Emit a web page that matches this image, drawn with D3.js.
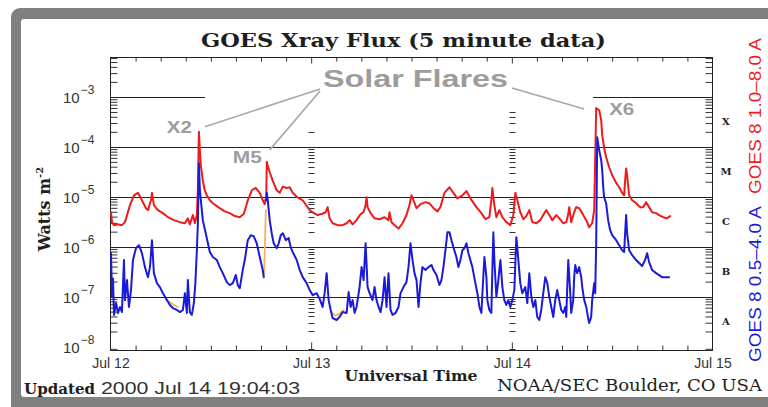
<!DOCTYPE html>
<html>
<head>
<meta charset="utf-8">
<script src="https://cdn.jsdelivr.net/npm/d3@7"></script>
<style>
  html, body { margin: 0; padding: 0; background: #fff; }
  svg { display: block; }
</style>
</head>
<body>
<svg id="chart" width="768" height="407"></svg>
<script>
// GOES-8 X-ray flux, 12–14 July 2000. Times are hours after 2000-07-12 00:00 UT,
// flux in W m^-2.

// 1.0–8.0 Å (long) channel
const longChannel = [
  [0.06,4.9e-6],[0.18,3.1e-6],[0.42,2.7e-6],[0.90,2.8e-6],[1.37,2.7e-6],[1.73,3.1e-6],[2.33,6.8e-6],
  [2.81,1.07e-5],[3.28,1.2e-5],[3.76,8.5e-6],[4.24,5.9e-6],[4.48,5.4e-6],[4.84,8.5e-6],[4.96,1.2e-5],
  [5.19,6.8e-6],[5.67,5.4e-6],[6.27,4.7e-6],[6.87,3.9e-6],[7.58,3.4e-6],[8.30,3.1e-6],[8.90,2.95e-6],
  [9.25,3.7e-6],[9.49,2.8e-6],[9.85,4.3e-6],[10.09,2.95e-6],[10.33,4.3e-6],[10.45,1.35e-5],[10.57,2.0e-4],
  [10.69,8.5e-5],[10.81,4.2e-5],[11.04,2.1e-5],[11.28,1.35e-5],[11.52,1.07e-5],[11.88,8.5e-6],[12.24,7.4e-6],
  [12.72,6.5e-6],[13.07,5.9e-6],[13.67,5.1e-6],[14.27,4.7e-6],[14.87,4.1e-6],[15.46,3.9e-6],[15.94,4.5e-6],
  [16.42,8.5e-6],[16.90,1.35e-5],[17.37,1.5e-5],[17.85,1.2e-5],[18.21,8.5e-6],[18.45,7.1e-6],[18.63,1.07e-5],
  [18.69,5.0e-5],[18.81,4.2e-5],[19.04,3.1e-5],[19.40,2.1e-5],[19.88,1.35e-5],[20.24,1.2e-5],[20.60,1.6e-5],
  [21.07,1.5e-5],[21.43,1.55e-5],[21.79,1.2e-5],[22.27,1.0e-5],[22.99,8.5e-6],[23.82,5.4e-6],[24.30,4.7e-6],
  [24.78,4.3e-6],[25.25,4.5e-6],[25.73,4.9e-6],[25.97,6.2e-6],[26.21,3.7e-6],[26.57,2.95e-6],[27.16,2.7e-6],
  [27.76,2.7e-6],[28.24,2.95e-6],[28.60,3.4e-6],[28.96,2.8e-6],[29.43,3.4e-6],[29.91,4.5e-6],[30.27,4.9e-6],
  [30.51,6.8e-6],[30.63,9.8e-6],[30.75,6.2e-6],[31.10,4.7e-6],[31.58,3.7e-6],[32.18,3.55e-6],[32.78,3.9e-6],
  [33.25,3.4e-6],[33.37,4.9e-6],[33.61,3.1e-6],[34.09,2.6e-6],[34.45,2.3e-6],[34.93,2.95e-6],[35.40,4.3e-6],
  [35.76,6.8e-6],[36.00,1.07e-5],[36.24,8.5e-6],[36.60,5.9e-6],[37.07,7.1e-6],[37.67,7.8e-6],[38.15,7.4e-6],
  [38.63,5.9e-6],[39.10,5.1e-6],[39.46,6.2e-6],[39.94,1.2e-5],[40.54,1.55e-5],[41.01,1.2e-5],[41.49,9.3e-6],
  [42.09,1.07e-5],[42.57,1.3e-5],[43.04,9.3e-6],[43.76,6.2e-6],[44.36,4.7e-6],[44.84,3.55e-6],[45.31,3.9e-6],
  [45.55,8.5e-6],[45.67,1.5e-5],[45.91,6.8e-6],[46.15,3.9e-6],[46.51,5.4e-6],[46.87,3.9e-6],[47.34,3.1e-6],
  [47.82,2.7e-6],[48.18,4.3e-6],[48.42,1.2e-5],[48.66,8.5e-6],[49.01,4.9e-6],[49.37,3.55e-6],[49.73,4.1e-6],
  [50.09,5.4e-6],[50.45,3.1e-6],[50.93,2.95e-6],[51.40,3.4e-6],[51.76,4.3e-6],[52.12,5.4e-6],[52.48,4.3e-6],
  [52.84,3.4e-6],[53.31,4.3e-6],[53.67,3.7e-6],[54.15,2.95e-6],[54.51,3.1e-6],[54.75,4.5e-6],[54.87,6.2e-6],
  [55.10,3.1e-6],[55.46,4.9e-6],[55.70,6.2e-6],[56.06,5.9e-6],[56.42,4.7e-6],[56.90,3.4e-6],[57.25,2.45e-6],
  [57.61,2.95e-6],[57.85,5.4e-6],[57.97,5.4e-5],[58.09,6.0e-4],[58.45,5.4e-4],[58.69,3.4e-4],[58.81,1.7e-4],
  [59.04,9.5e-5],[59.28,6.2e-5],[59.64,3.9e-5],[60.00,2.7e-5],[60.48,1.9e-5],[60.84,1.55e-5],[61.19,1.2e-5],
  [61.43,1.07e-5],[61.55,2.1e-5],[61.67,3.7e-5],[61.79,2.7e-5],[62.03,1.07e-5],[62.39,8.5e-6],[62.87,7.4e-6],
  [63.34,6.2e-6],[63.70,6.2e-6],[64.06,7.8e-6],[64.42,6.2e-6],[64.78,4.9e-6],[65.25,4.7e-6],[65.61,4.3e-6],
  [66.09,3.9e-6],[66.57,3.7e-6],[66.93,4.1e-6]
];

// 0.5–4.0 Å (short) channel; null marks a data gap
const shortChannel = [
  [0.06,7.4e-7],[0.18,9.8e-8],[0.30,2.3e-7],[0.42,4.3e-8],[0.66,7.4e-8],[0.90,4.7e-8],[1.13,6.2e-8],
  [1.37,4.9e-8],[1.61,5.4e-7],[1.73,8.5e-8],[1.97,2.14e-7],[2.21,6.2e-8],[2.45,1.35e-7],[2.69,5.4e-7],
  [3.04,9.3e-7],[3.40,1.07e-6],[3.76,7.4e-7],[4.12,3.9e-7],[4.48,2.45e-7],[4.72,3.9e-7],[4.96,1.35e-6],
  [5.19,2.95e-7],[5.55,1.86e-7],[5.91,1.55e-7],[6.27,1.17e-7],[6.75,8.5e-8],[7.10,6.8e-8],[7.46,5.9e-8],
  [7.94,5.4e-8],[8.30,4.9e-8],[8.66,5.4e-8],[8.90,1.17e-7],[9.13,4.7e-8],[9.25,2.14e-7],[9.49,4.9e-8],
  [9.73,4.3e-8],[9.97,7.4e-8],[10.15,1.86e-7],[10.33,8.5e-7],[10.45,2.95e-6],[10.57,4.7e-5],[10.69,1.35e-5],
  [11.04,3.4e-6],[11.52,1.48e-6],[11.88,7.8e-7],[12.24,6.2e-7],[12.72,5.4e-7],[13.07,3.9e-7],[13.43,2.95e-7],
  [13.91,1.95e-7],[14.27,1.7e-7],[14.63,1.86e-7],[14.99,2.7e-7],[15.22,1.7e-7],[15.46,1.48e-7],[15.82,3.4e-7],
  [16.06,5.4e-7],[16.42,1.35e-6],[16.78,1.7e-6],[17.13,1.62e-6],[17.49,1.17e-6],[17.85,6.2e-7],[18.21,3.4e-7],
  [18.33,2.45e-7],null,[18.63,8.5e-6],[18.69,1.2e-5],[18.81,8.5e-6],[19.04,3.4e-6],[19.28,1.86e-6],
  [19.52,1.17e-6],[19.88,9.3e-7],[20.12,1.17e-6],[20.36,1.7e-6],[20.60,1.86e-6],[20.96,1.35e-6],[21.31,1.48e-6],
  [21.55,9.8e-7],[21.79,7.8e-7],[22.27,5.4e-7],[22.63,3.4e-7],[22.99,2.45e-7],[23.46,1.86e-7],[23.82,1.35e-7],
  [24.18,1.07e-7],[24.66,1.17e-7],[25.01,9.0e-8],[25.37,6.2e-8],[25.61,1.17e-7],[25.85,2.95e-7],[26.09,8.5e-8],
  [26.33,5.4e-8],[26.57,3.7e-8],[27.04,3.4e-8],[27.40,3.9e-8],[27.76,4.9e-8],[28.24,4.7e-8],[28.48,1.23e-7],
  [28.72,6.2e-8],[28.96,8.5e-8],[29.19,4.7e-8],[29.43,6.2e-8],[29.79,1.55e-7],[30.03,3.9e-7],[30.27,2.14e-7],
  [30.51,1.17e-6],[30.75,1.55e-7],[30.99,1.17e-7],[31.34,8.5e-8],[31.58,1.55e-7],[31.82,8.5e-8],[32.06,6.2e-8],
  [32.30,4.9e-8],[32.54,8.5e-8],[32.78,2.45e-7],[33.01,6.2e-8],[33.25,2.95e-7],[33.49,5.4e-8],[33.73,4.3e-8],
  [34.09,4.7e-8],[34.45,6.2e-8],[34.69,1.17e-7],[35.04,1.55e-7],[35.40,1.95e-7],[35.64,3.9e-7],[35.88,1.17e-6],
  [36.12,5.4e-7],[36.36,2.95e-7],[36.60,2.14e-7],[36.84,6.2e-8],[37.07,1.86e-7],[37.31,3.9e-7],[37.67,3.4e-7],
  [38.03,3.9e-7],[38.39,4.3e-7],[38.63,3.4e-7],[38.99,2.7e-7],[39.34,1.7e-7],[39.58,2.14e-7],[39.82,3.9e-7],
  [40.06,8.5e-7],[40.30,1.95e-6],[40.54,1.95e-6],[40.78,1.35e-6],[41.01,9.8e-7],[41.37,6.2e-7],[41.61,3.9e-7],
  [41.85,5.4e-7],[42.09,8.5e-7],[42.33,9.3e-7],[42.57,1.17e-6],[42.81,7.4e-7],[43.04,5.4e-7],[43.28,3.9e-7],
  [43.64,1.86e-7],[43.88,1.17e-7],[44.12,6.2e-8],[44.36,4.7e-8],[44.48,1.17e-7],[44.72,6.2e-7],[44.96,2.45e-7],
  [45.07,8.5e-8],[45.31,5.4e-8],[45.55,4.7e-8],[45.67,3.4e-7],[45.79,1.95e-6],[45.91,5.4e-7],[46.15,9.8e-8],
  [46.39,2.14e-7],[46.63,5.4e-7],[46.87,1.55e-7],[47.10,8.5e-8],[47.34,6.8e-8],[47.58,8.5e-8],[47.82,6.2e-8],
  [48.06,8.5e-8],[48.30,1.35e-7],[48.54,1.55e-6],[48.78,5.4e-7],[49.01,1.86e-7],[49.25,1.17e-7],[49.61,1.55e-7],
  [49.85,7.4e-8],[50.09,2.95e-7],[50.33,9.8e-8],[50.57,6.2e-8],[50.81,8.5e-8],[51.04,3.9e-8],[51.28,3.4e-8],
  [51.52,5.4e-8],[51.76,1.17e-7],[52.00,2.45e-7],[52.24,1.86e-7],[52.48,9.8e-8],[52.72,6.2e-8],[52.96,3.9e-8],
  [53.19,8.5e-8],[53.43,1.35e-7],[53.67,8.5e-8],[53.91,5.4e-8],[54.15,4.7e-8],[54.39,6.2e-8],[54.51,3.9e-8],
  [54.63,1.55e-7],[54.75,5.4e-7],[54.99,1.17e-7],[55.10,4.7e-8],[55.34,8.5e-8],[55.46,2.45e-7],[55.58,4.3e-7],
  [55.82,2.95e-7],[56.06,3.9e-7],[56.30,2.45e-7],[56.42,1.55e-7],[56.66,8.5e-8],[56.90,6.2e-8],[57.13,3.7e-8],
  [57.25,2.95e-8],[57.49,3.9e-8],[57.61,8.5e-8],[57.85,1.86e-7],[57.97,1.17e-7],[58.09,1.17e-6],[58.21,1.55e-4],
  [58.45,8.5e-5],[58.69,5.4e-5],[58.81,3.4e-5],[58.93,1.55e-5],[59.04,9.8e-6],[59.28,7.4e-6],[59.52,3.4e-6],
  [59.76,2.14e-6],[60.00,1.7e-6],[60.48,1.35e-6],[60.84,1.07e-6],[61.19,8.5e-7],[61.43,7.8e-7],[61.55,1.86e-6],
  [61.67,4.3e-6],[61.79,1.86e-6],[62.03,8.5e-7],[62.39,6.8e-7],[62.87,5.4e-7],[63.22,4.7e-7],[63.58,4.1e-7],
  [63.94,5.4e-7],[64.18,7.4e-7],[64.42,4.9e-7],[64.78,3.4e-7],[65.25,2.95e-7],[65.61,2.7e-7],[65.97,2.45e-7],
  [66.45,2.45e-7],[66.81,2.45e-7]
];

// Secondary short-channel samples that show from under the main trace
const secondaryShort = [
  [6.63,8.5e-8],[7.10,7.8e-8],[7.58,6.8e-8],[8.06,6.2e-8],null,
  [18.36,2.6e-7],[18.45,8.5e-7],[18.52,2.3e-6],[18.58,5.4e-6],null,
  [26.45,4.9e-8],[26.92,4.1e-8],[27.40,4.5e-8],[27.88,5.4e-8]
];

// Flares called out on the chart
const flareNames = ["X2", "M5", "X6"];
const flareTimes = [10.57, 18.69, 58.09];
const flareFluxes = [2.0e-4, 5.0e-5, 6.0e-4];

const dayLabels = ["Jul 12", "Jul 13", "Jul 14", "Jul 15"];
const decadeExponents = [-8, -7, -6, -5, -4, -3];
const flareClasses = ["A", "B", "C", "M", "X"];

// ---------------------------------------------------------------------------
const startMs = Date.UTC(2000, 6, 12);
const at = h => new Date(startMs + h * 3600e3);

const svg = d3.select("#chart");
const plotL = 110.5, plotR = 712.5, plotT = 57.5, plotB = 350.5;

const x = d3.scaleUtc().domain([at(0), at(72)]).range([plotL, plotR]);
const y = d3.scaleLog().domain([Math.pow(10, -8.08), Math.pow(10, -2.21)]).range([plotB, plotT]);

const serif = "'DejaVu Serif', 'Liberation Serif', serif";
const sans = "'Liberation Sans', Arial, sans-serif";
const ink = "#1e1e1e";

// page frame
svg.append("rect").attr("width", 768).attr("height", 407).attr("fill", "#fff");
svg.append("rect").attr("x", 11).attr("y", 8).attr("width", 800).attr("height", 430)
  .attr("rx", 9).attr("fill", "#808080");
svg.append("rect").attr("x", 21).attr("y", 19).attr("width", 800).attr("height", 378)
  .attr("rx", 3).attr("fill", "#fff");

// minor tick values 2..9 × 10^n inside the axis range
const [yMin, yMax] = y.domain();
const minorTicks = [];
for (let e = -9; e <= -2; e++) {
  for (let m = 2; m <= 9; m++) {
    const v = m * Math.pow(10, e);
    if (v > yMin && v < yMax) minorTicks.push(v);
  }
}

const axisStyle = g => {
  g.select(".domain").remove();
  g.selectAll(".tick line").attr("stroke", "#333").attr("stroke-width", 1);
};

// left / right inner ticks
svg.append("g").attr("transform", `translate(${plotL},0)`)
  .call(d3.axisRight(y).tickValues(minorTicks).tickSize(7).tickFormat(""))
  .call(axisStyle);
svg.append("g").attr("transform", `translate(${plotR},0)`)
  .call(d3.axisLeft(y).tickValues(minorTicks).tickSize(7).tickFormat(""))
  .call(axisStyle);

// time ticks every 3 hours, top and bottom
const hourTicks = d3.range(3, 72, 3).filter(h => h % 24 !== 0).map(at);
const dayTicks = [24, 48].map(at);
svg.append("g").attr("transform", `translate(0,${plotT})`)
  .call(d3.axisBottom(x).tickValues(hourTicks).tickSize(4).tickFormat(""))
  .call(axisStyle);
svg.append("g").attr("transform", `translate(0,${plotT})`)
  .call(d3.axisBottom(x).tickValues(dayTicks).tickSize(6).tickFormat(""))
  .call(axisStyle);
svg.append("g").attr("transform", `translate(0,${plotB})`)
  .call(d3.axisTop(x).tickValues(hourTicks).tickSize(5).tickFormat(""))
  .call(axisStyle);
svg.append("g").attr("transform", `translate(0,${plotB})`)
  .call(d3.axisTop(x).tickValues(dayTicks).tickSize(8).tickFormat(""))
  .call(axisStyle);

// day-boundary tick columns inside the plot
const dayColumns = [{ h: 24, upTo: 2.1e-4 }, { h: 48, upTo: 5.1e-4 }];
dayColumns.forEach(c => {
  const cx = Math.round(x(at(c.h))) + 0.5;
  svg.append("g").selectAll("line")
    .data(minorTicks.filter(v => v <= c.upTo))
    .join("line")
    .attr("x1", cx - 3).attr("x2", cx + 3)
    .attr("y1", v => Math.round(y(v)) + 0.5).attr("y2", v => Math.round(y(v)) + 0.5)
    .attr("stroke", "#333").attr("stroke-width", 1);
});

// decade grid lines
const grid = svg.append("g").attr("stroke", "#222").attr("stroke-width", 1);
[-7, -6, -5, -4].forEach(e => {
  const gy = Math.round(y(Math.pow(10, e))) + 0.5;
  grid.append("line").attr("x1", plotL).attr("x2", plotR).attr("y1", gy).attr("y2", gy);
});
const xLine = Math.round(y(1e-3)) + 0.5;
[[0, 11.3], [57.7, 72]].forEach(([a, b]) => {
  grid.append("line").attr("x1", x(at(a))).attr("x2", x(at(b))).attr("y1", xLine).attr("y2", xLine);
});

// plot border
svg.append("rect").attr("x", plotL).attr("y", plotT)
  .attr("width", plotR - plotL).attr("height", plotB - plotT)
  .attr("fill", "none").attr("stroke", "#222").attr("stroke-width", 1);

// flux traces
const line = d3.line()
  .defined(d => d !== null)
  .x(d => x(at(d[0])))
  .y(d => y(d[1]));

const traces = svg.append("g").attr("fill", "none")
  .attr("stroke-linejoin", "round").attr("stroke-linecap", "round");
traces.append("path").datum(secondaryShort).attr("d", line)
  .attr("stroke", "#f2b45a").attr("stroke-width", 1.8);
traces.append("path").datum(longChannel).attr("d", line)
  .attr("stroke", "#ec1c1c").attr("stroke-width", 2);
traces.append("path").datum(shortChannel).attr("d", line)
  .attr("stroke", "#1a1ad8").attr("stroke-width", 2);

// y tick labels: 10^n
const yLabels = svg.append("g").attr("fill", "#333").style("font-family", sans);
decadeExponents.forEach(e => {
  const ty = y(Math.pow(10, e));
  const t = yLabels.append("text").attr("x", 63).attr("y", ty + 6).style("font-size", "15px");
  t.append("tspan").text("10");
  t.append("tspan").attr("dx", 1).attr("dy", -9).style("font-size", "12px").text("\u2212" + Math.abs(e));
});

// flare class letters on the right
svg.append("g").selectAll("text").data(flareClasses).join("text")
  .attr("x", 726).attr("y", (d, i) => y(Math.pow(10, -7.5 + i)) + 3)
  .attr("text-anchor", "middle")
  .style("font-family", serif).style("font-weight", "bold").style("font-size", "10px")
  .attr("fill", ink).text(d => d);

// day labels
svg.append("g").attr("transform", `translate(0,${plotB})`)
  .call(d3.axisBottom(x).tickValues([0, 24, 48, 72].map(at)).tickSize(0)
    .tickFormat((d, i) => dayLabels[i]))
  .call(g => g.select(".domain").remove())
  .call(g => g.selectAll("text").attr("dy", 0).attr("y", 17)
    .style("font-family", sans).style("font-size", "14px").attr("fill", "#333"));

// title and axis titles
svg.append("text").attr("x", 403.5).attr("y", 47).attr("text-anchor", "middle")
  .attr("textLength", 405).attr("lengthAdjust", "spacingAndGlyphs")
  .style("font-family", serif).style("font-size", "18px").style("font-weight", "bold")
  .attr("fill", ink).text("GOES Xray Flux (5 minute data)");

const yTitle = svg.append("text").attr("transform", "translate(50,209) rotate(-90)")
  .attr("text-anchor", "middle").style("font-family", serif).style("font-weight", "bold")
  .style("font-size", "16px").attr("fill", ink);
yTitle.append("tspan").text("Watts m");
yTitle.append("tspan").attr("dy", -7).style("font-size", "10px").text("-2");

svg.append("text").attr("x", 411).attr("y", 381).attr("text-anchor", "middle")
  .attr("textLength", 133).attr("lengthAdjust", "spacingAndGlyphs")
  .style("font-family", serif).style("font-weight", "bold").style("font-size", "14px")
  .attr("fill", ink).text("Universal Time");

svg.append("text").attr("x", 24).attr("y", 394)
  .attr("textLength", 71).attr("lengthAdjust", "spacingAndGlyphs")
  .style("font-family", serif).style("font-weight", "bold").style("font-size", "15px")
  .attr("fill", ink).text("Updated");
svg.append("text").attr("x", 101).attr("y", 394)
  .attr("textLength", 199).attr("lengthAdjust", "spacingAndGlyphs")
  .style("font-family", sans).style("font-size", "17px")
  .attr("fill", "#333").text("2000 Jul 14 19:04:03");

svg.append("text").attr("x", 762).attr("y", 391).attr("text-anchor", "end")
  .attr("textLength", 265).attr("lengthAdjust", "spacingAndGlyphs")
  .style("font-family", serif).style("font-size", "16px").attr("fill", ink)
  .text("NOAA/SEC Boulder, CO USA");

// channel legends on the right edge
svg.append("text").attr("transform", "translate(761,116) rotate(-90)")
  .attr("text-anchor", "middle").style("font-family", sans).style("font-size", "16px")
  .attr("textLength", 156).attr("lengthAdjust", "spacingAndGlyphs")
  .attr("fill", "#ec1c1c").text("GOES 8 1.0\u20138.0 A");
svg.append("text").attr("transform", "translate(761,284) rotate(-90)")
  .attr("text-anchor", "middle").style("font-family", sans).style("font-size", "16px")
  .attr("textLength", 156).attr("lengthAdjust", "spacingAndGlyphs")
  .attr("fill", "#1a1ad8").text("GOES 8 0.5\u20134.0 A");

// flare annotations
const noteColor = "#9c9c9c";
const peaks = flareNames.map((n, i) => ({ name: n, px: x(at(flareTimes[i])), py: y(flareFluxes[i]) }));
svg.append("text").attr("x", 323).attr("y", 87)
  .attr("textLength", 185).attr("lengthAdjust", "spacingAndGlyphs")
  .style("font-family", sans).style("font-weight", "bold").style("font-size", "24px")
  .attr("fill", noteColor).text("Solar Flares");

const noteLayout = {
  X2: { dx: -7, dy: 1, anchor: "end", w: 25, lx: 6, ly: -5, from: [320, 89] },
  M5: { dx: -5, dy: 1.5, anchor: "end", w: 29, lx: 3, ly: -12, from: [320, 91] },
  X6: { dx: 13, dy: 6.5, anchor: "start", w: 25, lx: -12, ly: 1, from: [512, 88] }
};
peaks.forEach(p => {
  const L = noteLayout[p.name];
  svg.append("line")
    .attr("x1", L.from[0]).attr("y1", L.from[1])
    .attr("x2", p.px + L.lx).attr("y2", p.py + L.ly)
    .attr("stroke", "#a8a8a8").attr("stroke-width", 1.6);
  svg.append("text").attr("x", p.px + L.dx).attr("y", p.py + L.dy)
    .attr("text-anchor", L.anchor)
    .attr("textLength", L.w).attr("lengthAdjust", "spacingAndGlyphs")
    .style("font-family", sans).style("font-weight", "bold").style("font-size", "16px")
    .attr("fill", noteColor).text(p.name);
});
</script>
</body>
</html>
